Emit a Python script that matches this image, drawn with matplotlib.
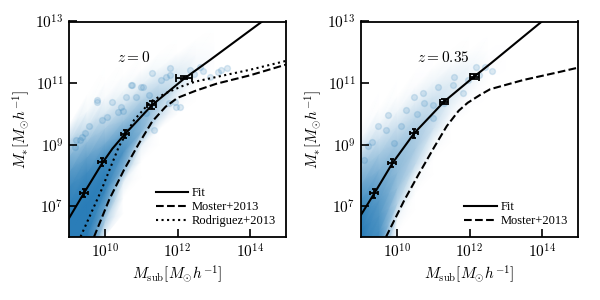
import numpy as np
import matplotlib.pyplot as plt
from matplotlib.colors import LinearSegmentedColormap

plt.rcParams['font.family'] = ['Liberation Serif', 'DejaVu Serif']
plt.rcParams['mathtext.fontset'] = 'cm'

# all values in log10 units
xtick_pos = [10, 12, 14]
ytick_pos = [7, 9, 11, 13]
xtick_labels = [r'$10^{10}$', r'$10^{12}$', r'$10^{14}$']
ytick_labels = [r'$10^{7}$', r'$10^{9}$', r'$10^{11}$', r'$10^{13}$']

# density of the simulated subhaloes: columns at cloud_x, rows at an offset
# (dex in M*) above/below the middle of the cloud
cloud_x = [9.0, 9.5, 10.0, 10.5, 11.0, 11.5, 12.0, 12.5, 13.0]
cloud_dy = [-2.5, -2.0, -1.5, -1.0, -0.5, 0.0, 0.5, 1.0, 1.5, 2.0, 2.5, 3.0]

# ---- z = 0 panel ----
z0_fit_x = [9.0, 9.41, 9.92, 10.2, 10.52, 11.30, 12.18, 12.90, 14.34]
z0_fit_y = [6.61, 7.42, 8.40, 8.87, 9.31, 10.29, 11.14, 11.75, 13.0]
z0_moster_x = [9.69, 10.11, 10.52, 10.94, 11.30, 11.67, 12.0, 12.5, 13.08, 14.0, 15.0]
z0_moster_y = [6.0, 7.21, 8.18, 9.05, 9.75, 10.23, 10.52, 10.75, 10.98, 11.25, 11.6]
z0_rodr_x = [9.32, 9.88, 10.38, 10.80, 11.26, 11.67, 12.13, 12.5, 13.36, 14.0, 15.0]
z0_rodr_y = [6.01, 7.48, 8.94, 9.80, 10.40, 10.67, 10.90, 11.05, 11.27, 11.43, 11.72]
z0_pts_x = [9.41, 9.91, 10.55, 11.29, 12.18]
z0_pts_y = [7.43, 8.44, 9.35, 10.29, 11.18]
z0_xerr = [0.11, 0.11, 0.11, 0.12, 0.22]
z0_yerr = [0.14, 0.14, 0.14, 0.13, 0.04]

z0_cloud_mid = [6.61, 7.6, 8.55, 9.28, 9.95, 10.5, 10.98, 11.41, 11.84]
z0_density = [
    [0.95, 0.95, 0.08, 0, 0, 0, 0, 0, 0],
    [0.95, 0.95, 0.35, 0, 0, 0, 0, 0, 0],
    [0.95, 0.95, 0.7, 0.1, 0, 0, 0, 0, 0],
    [0.95, 0.95, 0.9, 0.6, 0.08, 0, 0, 0, 0],
    [0.95, 0.95, 0.92, 0.8, 0.55, 0.25, 0.06, 0, 0],
    [0.95, 0.92, 0.85, 0.7, 0.55, 0.38, 0.2, 0.06, 0.02],
    [0.92, 0.85, 0.62, 0.45, 0.33, 0.22, 0.12, 0.03, 0],
    [0.88, 0.7, 0.38, 0.2, 0.12, 0.04, 0, 0, 0],
    [0.75, 0.48, 0.16, 0.05, 0, 0, 0, 0, 0],
    [0.58, 0.2, 0.03, 0, 0, 0, 0, 0, 0],
    [0.3, 0.04, 0, 0, 0, 0, 0, 0, 0],
    [0.03, 0, 0, 0, 0, 0, 0, 0, 0],
]
z0_scatter_x = [9.77, 10.73, 11.05, 11.79, 12.62, 13.36, 13.13, 12.07, 9.44, 9.30,
                10.36, 9.17, 9.78, 10.20, 10.71, 10.98, 10.43, 9.92, 9.55, 9.37,
                9.18, 11.12, 11.35, 11.76, 11.95, 11.53, 11.67, 11.30, 11.21, 10.84,
                10.57, 13.19, 12.90, 12.35, 11.79, 11.93, 12.45, 12.70, 10.05, 10.50]
z0_scatter_y = [10.45, 10.94, 10.86, 11.26, 11.53, 11.48, 11.37, 10.23, 9.38, 9.15,
                10.07, 8.93, 10.40, 10.40, 10.94, 10.88, 10.23, 9.80, 9.59, 9.26,
                9.15, 10.02, 9.48, 10.34, 10.23, 11.10, 11.21, 11.32, 10.61, 10.56,
                10.56, 11.43, 11.21, 11.43, 11.48, 10.40, 11.30, 11.40, 9.90, 10.10]

# ---- z = 0.35 panel ----
z35_fit_x = [9.0, 9.37, 9.87, 10.47, 11.30, 12.13, 12.60, 14.0]
z35_fit_y = [6.72, 7.42, 8.40, 9.37, 10.40, 11.21, 11.65, 13.0]
z35_moster_x = [9.69, 10.20, 10.61, 11.03, 11.37, 11.70, 11.95, 12.3, 12.57, 13.49, 14.41, 15.0]
z35_moster_y = [6.0, 7.20, 8.07, 8.93, 9.6, 10.1, 10.36, 10.62, 10.8, 11.10, 11.34, 11.5]
z35_pts_x = [9.37, 9.87, 10.47, 11.30, 12.13]
z35_pts_y = [7.42, 8.40, 9.37, 10.40, 11.21]
z35_xerr = [0.11, 0.11, 0.11, 0.11, 0.13]
z35_yerr = [0.14, 0.14, 0.14, 0.08, 0.09]

z35_cloud_mid = [6.72, 7.7, 8.6, 9.4, 10.05, 10.6, 11.08, 11.55, 11.93]
z35_density = [
    [0.95, 0.85, 0, 0, 0, 0, 0, 0, 0],
    [0.95, 0.85, 0.06, 0, 0, 0, 0, 0, 0],
    [0.95, 0.82, 0.32, 0.05, 0, 0, 0, 0, 0],
    [0.95, 0.78, 0.45, 0.28, 0.05, 0, 0, 0, 0],
    [0.95, 0.74, 0.5, 0.38, 0.22, 0.06, 0.02, 0, 0],
    [0.92, 0.66, 0.48, 0.38, 0.27, 0.16, 0.08, 0.02, 0],
    [0.82, 0.55, 0.38, 0.27, 0.2, 0.12, 0.06, 0, 0],
    [0.65, 0.4, 0.22, 0.12, 0.07, 0.03, 0, 0, 0],
    [0.48, 0.22, 0.07, 0.02, 0, 0, 0, 0, 0],
    [0.26, 0.07, 0, 0, 0, 0, 0, 0, 0],
    [0.06, 0, 0, 0, 0, 0, 0, 0, 0],
    [0, 0, 0, 0, 0, 0, 0, 0, 0],
]
z35_scatter_x = [9.46, 9.74, 10.24, 9.69, 10.47, 10.71, 10.75, 11.12, 11.53, 11.81,
                 12.18, 12.27, 11.95, 11.58, 11.30, 9.18, 9.09, 9.92, 10.98, 12.61,
                 12.43, 10.10, 10.55, 11.00, 9.30]
z35_scatter_y = [9.59, 9.96, 10.13, 9.48, 10.56, 10.67, 10.34, 10.88, 10.94, 10.67,
                 11.53, 11.26, 11.10, 11.21, 10.34, 8.94, 8.50, 9.04, 9.86, 11.39,
                 11.53, 9.60, 10.00, 10.30, 9.10]

blue = '#1f77b4'
cap_sizes = [1.3, 1.3, 1.3, 2.5, 3.0]
# white -> blue, opaque (same as blue with alpha over a white background)
density_cmap = LinearSegmentedColormap.from_list('cloud', ['white', blue])


def lin(a):
    return 10 ** np.asarray(a, dtype=float)


def draw_panel(ax, mid, dens, sx, sy, fit_x, fit_y, curves, px, py, xe, ye, ztext, zx):
    gx = np.tile(cloud_x, (len(cloud_dy), 1))
    gy = np.array(mid)[None, :] + np.array(cloud_dy)[:, None]
    ax.pcolormesh(lin(gx), lin(gy), np.array(dens), shading='gouraud', cmap=density_cmap,
                  vmin=0, vmax=1, zorder=1, antialiased=False, rasterized=True)
    ax.scatter(lin(sx), lin(sy), s=18, color=blue, alpha=0.15, zorder=1)

    ax.plot(lin(fit_x), lin(fit_y), 'k-', lw=1.5, label='Fit', zorder=3)
    for cx, cy, ls, lab in curves:
        ax.plot(lin(cx), lin(cy), color='k', ls=ls, lw=1.5, label=lab, zorder=3)

    for x, y, dx, dy, cs in zip(px, py, xe, ye, cap_sizes):
        xerr = [[10 ** x - 10 ** (x - dx)], [10 ** (x + dx) - 10 ** x]]
        yerr = [[10 ** y - 10 ** (y - dy)], [10 ** (y + dy) - 10 ** y]]
        ax.errorbar([10 ** x], [10 ** y], xerr=xerr, yerr=yerr, fmt='none', ecolor='k',
                    elinewidth=1.3, capsize=cs, capthick=1.3, zorder=4)

    ax.set_xscale('log')
    ax.set_yscale('log')
    ax.set_xlim(1e9, 1e15)
    ax.set_ylim(1e6, 1e13)
    ax.set_xticks(lin(xtick_pos))
    ax.set_xticklabels(xtick_labels)
    ax.set_yticks(lin(ytick_pos))
    ax.set_yticklabels(ytick_labels)
    ax.minorticks_off()
    ax.tick_params(direction='in', length=6, width=1.2, labelsize=11, pad=4)
    for sp in ax.spines.values():
        sp.set_linewidth(1.3)
        sp.set_zorder(5)
    ax.set_xlabel(r'$M_{\rm sub}[M_{\odot}h^{-1}]$', fontsize=11, labelpad=2)
    ax.set_ylabel(r'$M_{*}[M_{\odot}h^{-1}]$', fontsize=11, labelpad=2)
    ax.text(zx, 0.835, ztext, transform=ax.transAxes, ha='center', va='center', fontsize=11)
    ax.legend(loc='lower right', frameon=False, fontsize=9, handlelength=2.6,
              handletextpad=0.3, labelspacing=0.15, borderaxespad=0.4)


fig = plt.figure(figsize=(6, 3), dpi=100)
ax1 = fig.add_axes([69 / 600, 63 / 300, 217 / 600, 215.5 / 300])
ax2 = fig.add_axes([361 / 600, 63 / 300, 217 / 600, 215.5 / 300])

draw_panel(ax1, z0_cloud_mid, z0_density, z0_scatter_x, z0_scatter_y, z0_fit_x, z0_fit_y,
           [(z0_moster_x, z0_moster_y, '--', 'Moster+2013'),
            (z0_rodr_x, z0_rodr_y, ':', 'Rodriguez+2013')],
           z0_pts_x, z0_pts_y, z0_xerr, z0_yerr, r'$z=0$', 0.30)
draw_panel(ax2, z35_cloud_mid, z35_density, z35_scatter_x, z35_scatter_y, z35_fit_x, z35_fit_y,
           [(z35_moster_x, z35_moster_y, '--', 'Moster+2013')],
           z35_pts_x, z35_pts_y, z35_xerr, z35_yerr, r'$z=0.35$', 0.38)

fig.savefig('out.png', dpi=100)
